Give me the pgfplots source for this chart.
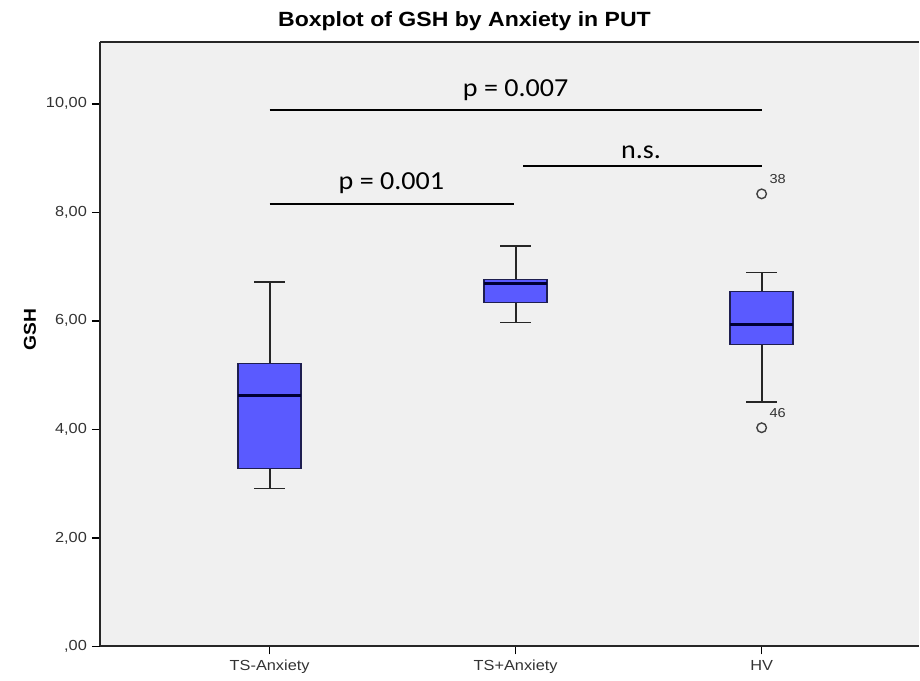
\documentclass[border=0pt]{standalone}
\usepackage{fontspec}
\setmainfont[FakeStretch=1.12]{Liberation Sans}
\newfontfamily\calibri[FakeStretch=1.08]{Carlito}
\usepackage{pgfplots}
\pgfplotsset{compat=1.18}
\usepgfplotslibrary{statistics}

\definecolor{bggray}{RGB}{240,240,240}
\definecolor{boxblue}{RGB}{90,90,255}
\definecolor{boxedge}{RGB}{30,30,80}
\definecolor{medblue}{RGB}{0,0,50}

\begin{document}
\begin{tikzpicture}
\begin{axis}[
  scale only axis,
  width=410pt, height=302.5pt,
  xmin=-0.69, xmax=2.64,
  ymin=0, ymax=11.14,
  axis x line*=bottom,
  axis y line*=left,
  axis line style={line width=0.9pt, black!85},
  axis background/.style={fill=bggray},
  xtick={0,1,2},
  xticklabels={TS-Anxiety,TS+Anxiety,HV},
  ytick={0,2,4,6,8,10},
  yticklabels={{,00},{2,00},{4,00},{6,00},{8,00},{10,00}},
  tick align=outside,
  major tick length=4pt,
  tick style={line width=0.7pt, black},
  ticklabel style={font=\fontsize{7.3pt}{8pt}\selectfont, text=black!80},
  xticklabel style={yshift=0.5pt},
  yticklabel style={xshift=1pt},
  ylabel={GSH},
  ylabel style={at={(rel axis cs:-0.0854,0.524)}, anchor=center, font=\bfseries\fontsize{8.6pt}{9pt}\selectfont},
  clip=false,
  boxplot/draw direction=y,
  boxplot/box extend=0.256,
  boxplot/whisker extend=0.126,
  boxplot/every box/.style={fill=boxblue, draw=boxedge, line width=0.7pt},
  boxplot/every whisker/.style={draw=black!85, line width=0.95pt},
  boxplot/every median/.style={draw=medblue, line width=1.5pt},
]
% TS-Anxiety
\addplot[boxplot prepared={draw position=0,
  lower whisker=2.91, lower quartile=3.28, median=4.62,
  upper quartile=5.21, upper whisker=6.72}] coordinates {};
% TS+Anxiety
\addplot[boxplot prepared={draw position=1,
  lower whisker=5.97, lower quartile=6.34, median=6.68,
  upper quartile=6.76, upper whisker=7.38}] coordinates {};
% HV, with outliers 38 and 46
\addplot[boxplot prepared={draw position=2,
  lower whisker=4.51, lower quartile=5.56, median=5.93,
  upper quartile=6.54, upper whisker=6.89},
  mark=o, mark size=2.4pt, mark options={draw=black!75, line width=0.7pt}]
  table[row sep=\\, y index=0] {8.34\\ 4.03\\};

\node[font=\fontsize{6.5pt}{7pt}\selectfont, text=black!80] at ([xshift=8pt,yshift=7.5pt]axis cs:2,8.34) {38};
\node[font=\fontsize{6.5pt}{7pt}\selectfont, text=black!80] at ([xshift=8pt,yshift=7.5pt]axis cs:2,4.03) {46};

% significance bars
\draw[line width=1pt] (axis cs:0,9.89) -- (axis cs:2,9.89);
\draw[line width=1pt] (axis cs:1.03,8.86) -- (axis cs:2,8.86);
\draw[line width=1pt] (axis cs:0,8.16) -- (axis cs:0.994,8.16);
\node[font=\calibri\fontsize{13pt}{14pt}\selectfont, anchor=base] at (axis cs:1.0,10.13) {p = 0.007};
\node[font=\calibri\fontsize{13pt}{14pt}\selectfont, anchor=base] at (axis cs:1.51,9.0) {n.s.};
\node[font=\calibri\fontsize{13pt}{14pt}\selectfont, anchor=base] at (axis cs:0.495,8.42) {p = 0.001};

% top frame line
\draw[line width=0.9pt, black!85] (rel axis cs:0,1) -- (rel axis cs:1,1);

\node[font=\bfseries\fontsize{10.3pt}{12pt}\selectfont, anchor=center] at ([yshift=10.5pt]rel axis cs:0.445,1) {Boxplot of GSH by Anxiety in PUT};

\coordinate (sw) at (rel axis cs:0,0);
\coordinate (ne) at (rel axis cs:1,1);
\end{axis}
\path ([xshift=-50pt,yshift=-15pt]sw) rectangle ([yshift=21pt]ne);
\end{tikzpicture}
\end{document}
